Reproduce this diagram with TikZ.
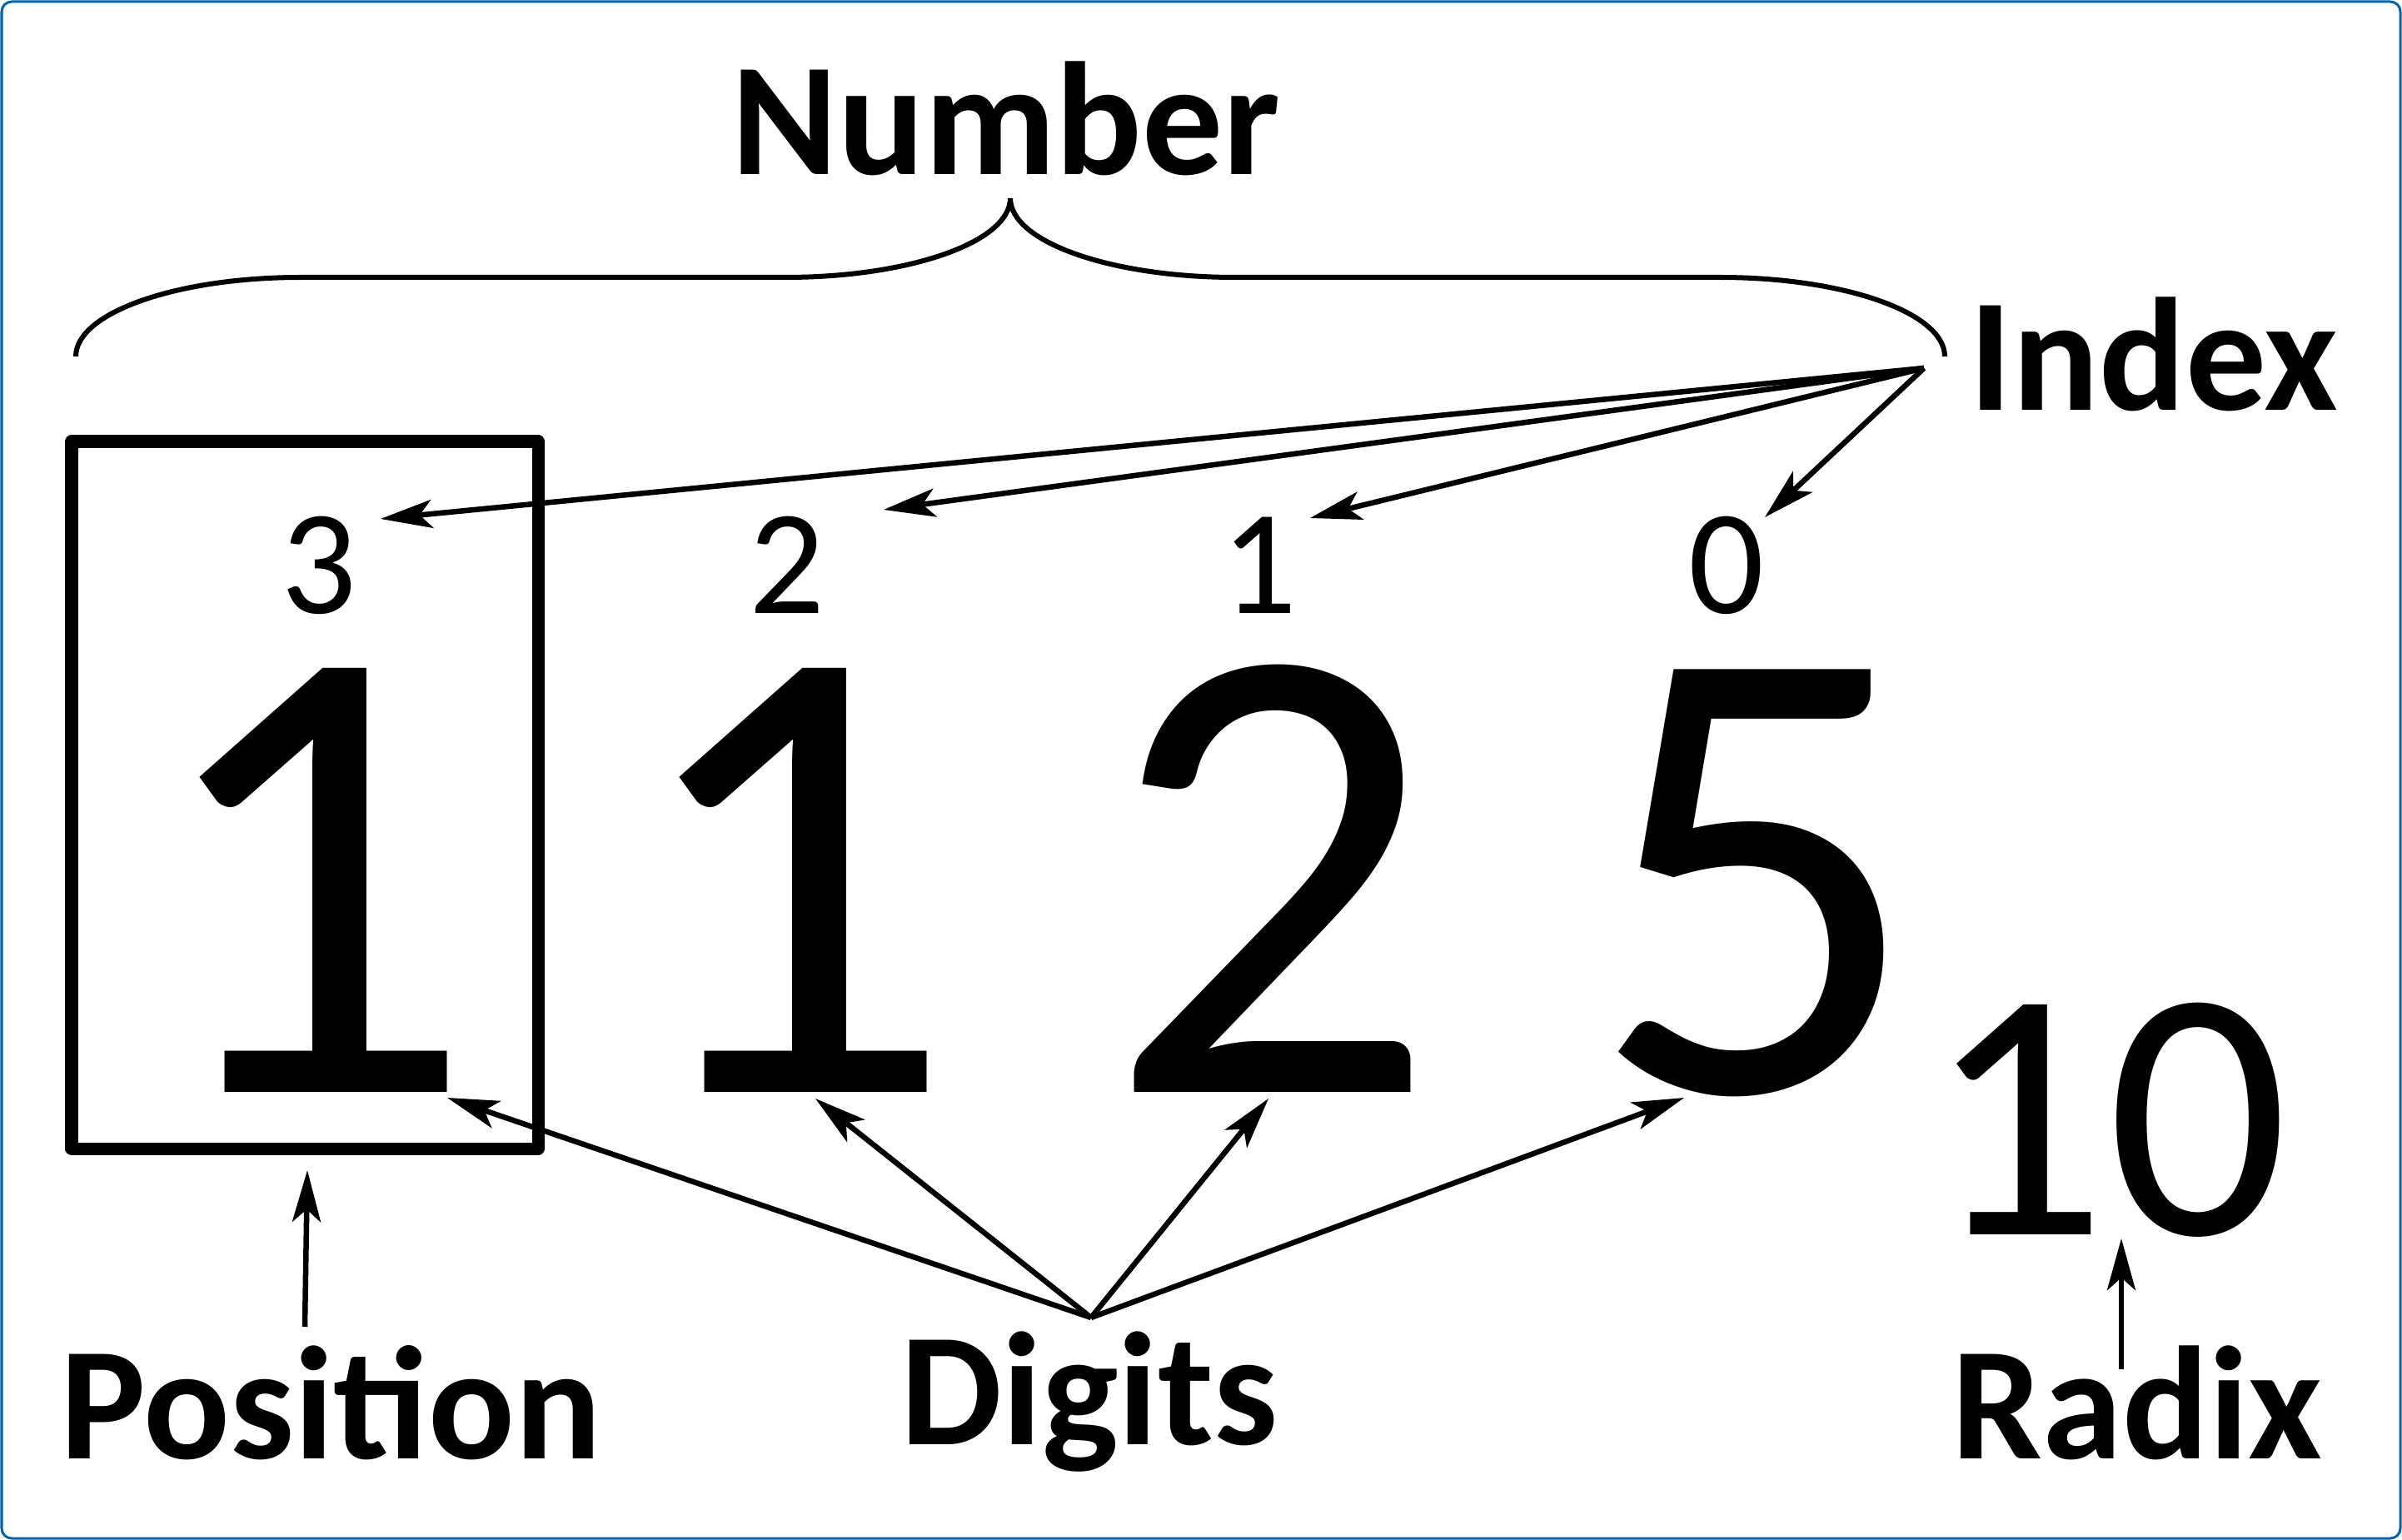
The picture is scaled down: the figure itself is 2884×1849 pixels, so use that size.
\documentclass[tikz,border=0pt]{standalone}
\usepackage{fontspec}
\setmainfont{Carlito}
\usetikzlibrary{arrows.meta}
\definecolor{frameblue}{RGB}{0,99,177}
\begin{document}
\begin{tikzpicture}[x=0.01cm,y=-0.01cm,
  lbl/.style={inner sep=0pt,anchor=base,font=\fontsize{55}{60}\selectfont\bfseries},
  idxnum/.style={inner sep=0pt,anchor=base,font=\fontsize{51}{55}\selectfont},
  bignum/.style={inner sep=0pt,anchor=base,font=\fontsize{225}{230}\selectfont},
  radixnum/.style={inner sep=0pt,anchor=base,font=\fontsize{122}{130}\selectfont},
  arr/.style={line width=0.065cm,-{Stealth[length=0.62cm,width=0.34cm,inset=0.15cm]}},
  brace/.style={line width=0.06cm},
  posbox/.style={line width=0.15cm,line join=round},
  frame/.style={draw=frameblue,line width=0.03cm,rounded corners=0.12cm}]
\useasboundingbox (0,0) rectangle (2884,1849);
\draw[frame] (2,2) rectangle (2882,1847);

% labels
\node[lbl] (number) at (1208,210) {Number};
\node[lbl] (index) at (2586,493) {Index};
\node[lbl] (position) at (397,1751) {Position};
\node[lbl] (digits) at (1308,1734) {Digits};
\node[lbl] (radix) at (2566,1751) {Radix};

% index numbers
\node[idxnum] (i3) at (383,736) {3};
\node[idxnum] (i2) at (945,736) {2};
\node[idxnum] (i1) at (1512,736) {1};
\node[idxnum] (i0) at (2073,736) {0};

% big digits
\node[bignum] (d3) at (372,1311) {1};
\node[bignum] (d2) at (948,1311) {1};
\node[bignum] (d1) at (1527,1311) {2};
\node[bignum] (d0) at (2108,1311) {5};
\node[radixnum] (base) at (2530,1482) {10};

% position box
\draw[posbox] (86,530) rectangle (646,1379);

% brace
\draw[brace] (91,428) .. controls (91,375.5) and (211.9,333) .. (361,333)
  -- (943,333) .. controls (1092.1,333) and (1213,290.5) .. (1213,238)
  .. controls (1213,290.5) and (1333.9,333) .. (1483,333)
  -- (2065,333) .. controls (2214.1,333) and (2335,375.5) .. (2335,428);

% arrow coordinates
\coordinate (idxsrc) at (2310,442);
\coordinate (t3) at (457,623);
\coordinate (t2) at (1061,612);
\coordinate (t1) at (1573,622);
\coordinate (t0) at (2119,621);
\coordinate (digsrc) at (1310,1582);
\coordinate (u3) at (537,1318);
\coordinate (u2) at (979,1319);
\coordinate (u1) at (1523,1319);
\coordinate (u0) at (2022,1318);
\coordinate (possrc) at (366,1593);
\coordinate (postip) at (369,1405);
\coordinate (radsrc) at (2547,1644);
\coordinate (radtip) at (2547,1487);

\draw[arr] (idxsrc) -- (t3);
\draw[arr] (idxsrc) -- (t2);
\draw[arr] (idxsrc) -- (t1);
\draw[arr] (idxsrc) -- (t0);
\draw[arr] (digsrc) -- (u3);
\draw[arr] (digsrc) -- (u2);
\draw[arr] (digsrc) -- (u1);
\draw[arr] (digsrc) -- (u0);
\draw[arr] (possrc) -- (postip);
\draw[arr] (radsrc) -- (radtip);
\end{tikzpicture}
\end{document}
